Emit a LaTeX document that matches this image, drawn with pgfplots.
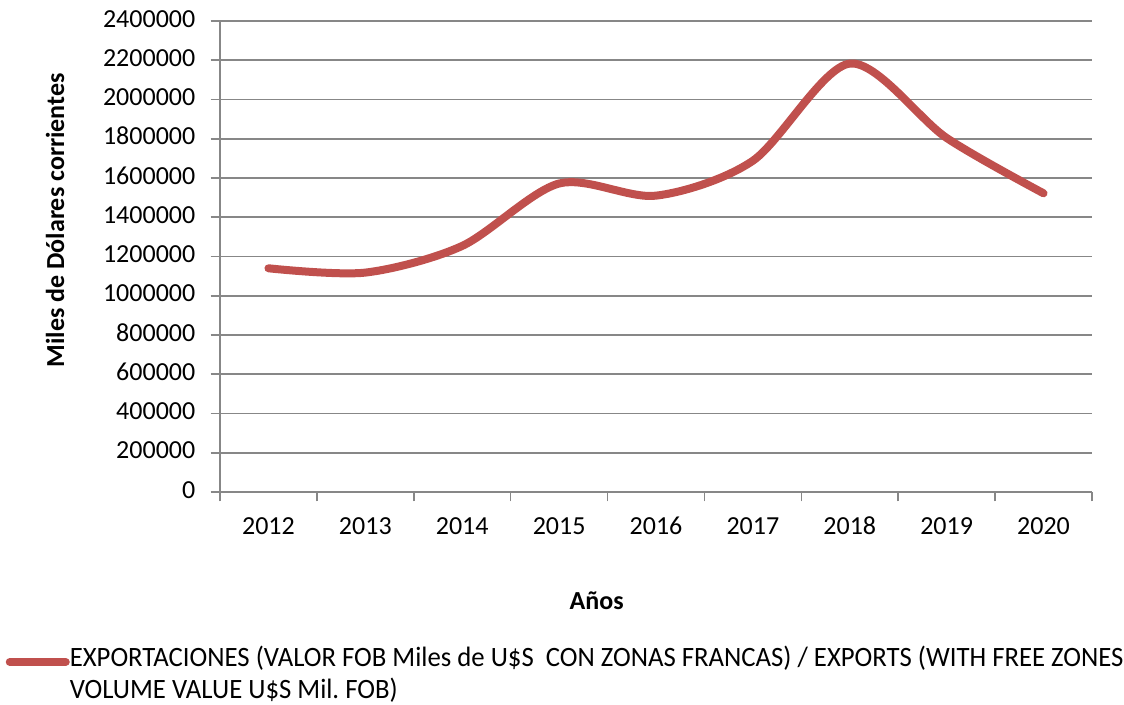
\documentclass[border=0pt]{standalone}
\usepackage{pgfplots}
\pgfplotsset{compat=1.18}
\usepackage{fontspec}
\setmainfont{Carlito}
\newfontfamily\condfont[FakeStretch=0.955]{Carlito}
\definecolor{serieRed}{HTML}{C0504D}
\definecolor{gridGray}{HTML}{878787}
\begin{document}
\begin{tikzpicture}
\useasboundingbox (-165pt,-159pt) rectangle (678pt,369pt);
\begin{axis}[
  scale only axis,
  width=654pt, height=353.25pt,
  at={(0,0)}, anchor=south west,
  xmin=-0.5, xmax=8.5,
  ymin=0, ymax=2400000,
  axis lines=left,
  axis line style={gridGray, line width=1.2pt, -},
  xtick={0,...,8},
  xticklabels={2012,2013,2014,2015,2016,2017,2018,2019,2020},
  major x tick style={draw=none},
  minor xtick={-0.5,0.5,...,8.5},
  minor x tick style={gridGray, line width=1.2pt},
  minor tick length=7pt,
  ytick={0,200000,...,2400000},
  major y tick style={gridGray, line width=1.2pt},
  tick align=outside,
  major tick length=7pt,
  ymajorgrids,
  major grid style={gridGray, line width=1.2pt},
  scaled y ticks=false,
  /pgf/number format/fixed,
  /pgf/number format/1000 sep={},
  /pgf/number format/assume math mode=true,
  typeset ticklabels with strut,
  tick label style={font=\fontsize{19.5}{23}\selectfont, black},
  yticklabel style={xshift=-8pt},
  xticklabel style={yshift=-5pt},
  xlabel={\textbf{Años}},
  xlabel style={font=\fontsize{19.5}{23}\selectfont, at={(axis description cs:0.432,-0.231)}, anchor=center},
  ylabel={\textbf{Miles de Dólares corrientes}},
  ylabel style={font=\fontsize{19.5}{23}\selectfont, at={(axis description cs:-0.189,0.577)}, anchor=center, rotate=0},
  clip=false,
  legend style={at={(axis description cs:-0.246,-0.326)}, anchor=north west, draw=none,
    font=\condfont\fontsize{21}{24}\selectfont, inner sep=0pt,
    nodes={inner sep=0pt, anchor=base west}},
  legend cell align=left,
  legend image code/.code={\draw[#1, line width=6pt, line cap=round] (3pt,0.33em) -- (45pt,0.33em);},
]
\addplot[serieRed, line width=6pt, line cap=round, smooth, tension=0.5] coordinates {
  (0,1140000) (1,1118000) (2,1254000) (3,1572000) (4,1510000)
  (5,1688000) (6,2183000) (7,1804000) (8,1522000)
};
\addlegendentry{\parbox[t]{820pt}{EXPORTACIONES (VALOR FOB Miles de U\$S\ \ CON ZONAS FRANCAS) / EXPORTS (WITH FREE ZONES\\VOLUME VALUE U\$S Mil.\ FOB)}}
\end{axis}
\end{tikzpicture}
\end{document}
